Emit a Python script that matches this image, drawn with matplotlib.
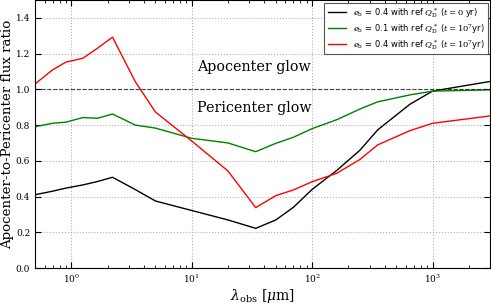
import numpy as np
import matplotlib
matplotlib.use('Agg')
import matplotlib.pyplot as plt

plt.rcParams['font.family'] = 'DejaVu Serif'
plt.rcParams['mathtext.fontset'] = 'dejavuserif'

# wavelengths (micron) and flux ratios
wav = [0.5, 0.7, 0.9, 1.25, 1.65, 2.2, 3.4, 5.0, 10, 20, 34, 50, 70, 100,
       160, 250, 350, 650, 1000, 3000]
black = [0.41, 0.43, 0.447, 0.465, 0.484, 0.508, 0.439, 0.375, 0.322, 0.269,
         0.222, 0.269, 0.34, 0.44, 0.546, 0.66, 0.773, 0.917, 0.99, 1.044]
green = [0.791, 0.81, 0.816, 0.842, 0.838, 0.862, 0.80, 0.783, 0.726, 0.70,
         0.651, 0.698, 0.732, 0.78, 0.83, 0.89, 0.93, 0.969, 0.99, 0.997]
red = [1.03, 1.109, 1.152, 1.174, 1.23, 1.292, 1.043, 0.873, 0.711, 0.543,
       0.338, 0.405, 0.437, 0.483, 0.53, 0.608, 0.689, 0.769, 0.81, 0.851]

labels = [r'$e_{\rm b}$ = 0.4 with ref $Q_{\rm D}^*$ ($t = 0$ yr)',
          r'$e_{\rm b}$ = 0.1 with ref $Q_{\rm D}^*$ ($t = 10^7$yr)',
          r'$e_{\rm b}$ = 0.4 with ref $Q_{\rm D}^*$ ($t = 10^7$yr)']

fig = plt.figure(figsize=(4.91, 3.05), dpi=100)
ax = fig.add_axes([0.0713, 0.1213, 0.9267, 0.8787])

ax.plot(wav, black, color='k', lw=1.0, label=labels[0])
ax.plot(wav, green, color='#008000', lw=1.0, label=labels[1])
ax.plot(wav, red, color='#ff0000', lw=1.0, label=labels[2])
ax.axhline(1.0, color='k', ls='--', lw=0.8, alpha=0.7)

ax.set_xscale('log')
ax.set_xlim(0.5, 3000)
ax.set_ylim(0, 1.5)
ax.set_yticks(np.arange(0, 1.41, 0.2))
ax.grid(True, which='major', color='#b0b0b0', ls=':', lw=0.8)
ax.tick_params(which='both', direction='in', top=True, right=True, labelsize=6.5)
ax.tick_params(which='major', length=4)
ax.tick_params(which='minor', length=2)

ax.text(11, 1.125, 'Apocenter glow', fontsize=10.3, va='center', ha='left')
ax.text(11, 0.896, 'Pericenter glow', fontsize=10.3, va='center', ha='left')

ax.set_xlabel(r'$\lambda_{\rm obs}$ [$\mu$m]', fontsize=10, labelpad=1)
ax.set_ylabel('Apocenter-to-Pericenter flux ratio', fontsize=9.6, labelpad=1)

leg = ax.legend(loc='upper right', prop={'family': 'DejaVu Sans', 'size': 6},
                fancybox=False, framealpha=1, borderaxespad=0.3,
                labelspacing=0.35, handlelength=2.2)
leg.get_frame().set_edgecolor('#555555')
leg.get_frame().set_linewidth(0.8)

fig.savefig('out.png', dpi=100)
